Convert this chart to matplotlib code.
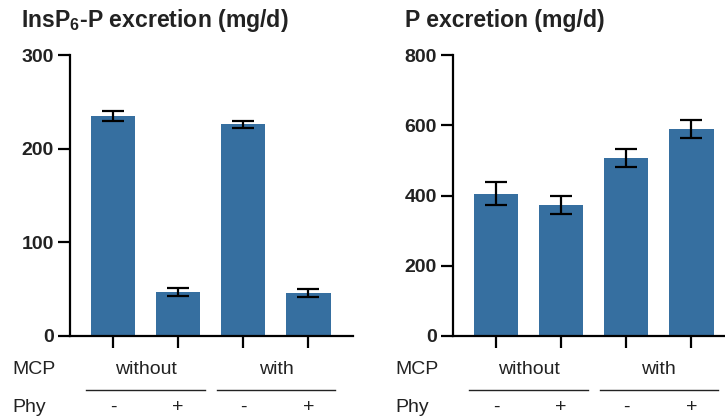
import numpy as np
import matplotlib
matplotlib.use("Agg")
import matplotlib.pyplot as plt
import matplotlib.transforms as mtransforms

plt.rcParams["font.family"] = ["Liberation Sans", "DejaVu Sans"]
plt.rcParams["mathtext.fontset"] = "custom"
plt.rcParams["mathtext.rm"] = "Liberation Sans:bold"
plt.rcParams["mathtext.default"] = "rm"

# data
mcp_groups = ["without", "with"]
phy_labels = ["-", "+", "-", "+"]

insp6_mean = [235, 47, 226, 46]
insp6_err = [5, 4, 4, 4]

p_mean = [405, 373, 507, 590]
p_err = [33, 27, 26, 25]

panels = [
    ("InsP$_6$-P excretion (mg/d)", insp6_mean, insp6_err, 300, [0, 100, 200, 300]),
    ("P excretion (mg/d)", p_mean, p_err, 800, [0, 200, 400, 600, 800]),
]

BAR_COLOR = "#366FA0"
TEXT_COLOR = "#222222"

fig = plt.figure(figsize=(7.25, 4.2), dpi=100)
axes_x = [0.0966, 0.6248]
title_x = [0.029, 0.559]

for i, (title, mean, err, ymax, yticks) in enumerate(panels):
    ax = fig.add_axes([axes_x[i], 0.2, 0.39, 0.669])
    x = np.arange(len(mean))
    ax.bar(x, mean, width=0.68, color=BAR_COLOR, zorder=1)
    ax.errorbar(x, mean, yerr=err, fmt="none", ecolor="black",
                elinewidth=1.6, capsize=8, capthick=1.6, zorder=2)

    ax.set_xlim(-0.66, 3.68)
    ax.set_ylim(0, ymax)
    ax.set_yticks(yticks)
    ax.set_xticks(x)
    ax.set_xticklabels([])

    for side in ["top", "right"]:
        ax.spines[side].set_visible(False)
    for side in ["left", "bottom"]:
        ax.spines[side].set_linewidth(1.6)
    ax.tick_params(axis="both", length=8.5, width=1.6, color="black")
    ax.tick_params(axis="y", pad=3)
    for lab in ax.get_yticklabels():
        lab.set_fontsize(14)
        lab.set_fontweight("bold")
        lab.set_color(TEXT_COLOR)

    # grouping labels below the axis
    trans = mtransforms.blended_transform_factory(ax.transData, ax.transAxes)
    ax.text(-1.55, -0.121, "MCP", transform=trans, ha="left", va="center",
            fontsize=14, color=TEXT_COLOR)
    ax.text(-1.55, -0.253, "Phy", transform=trans, ha="left", va="center",
            fontsize=14, color=TEXT_COLOR)
    for g, name in enumerate(mcp_groups):
        cx = 2 * g + 0.5
        ax.text(cx, -0.121, name, transform=trans, ha="center", va="center",
                fontsize=14, color=TEXT_COLOR)
        ax.plot([cx - 0.91, cx + 0.91], [-0.192, -0.192], transform=trans,
                color=TEXT_COLOR, lw=1.0, clip_on=False)
    for xi, lab in zip(x, phy_labels):
        ax.text(xi, -0.253, lab, transform=trans, ha="center", va="center",
                fontsize=14, color=TEXT_COLOR)

    fig.text(title_x[i], 0.936, title, ha="left", va="baseline",
             fontsize=16.6, fontweight="bold", color=TEXT_COLOR)

fig.savefig("out.png", dpi=100)
